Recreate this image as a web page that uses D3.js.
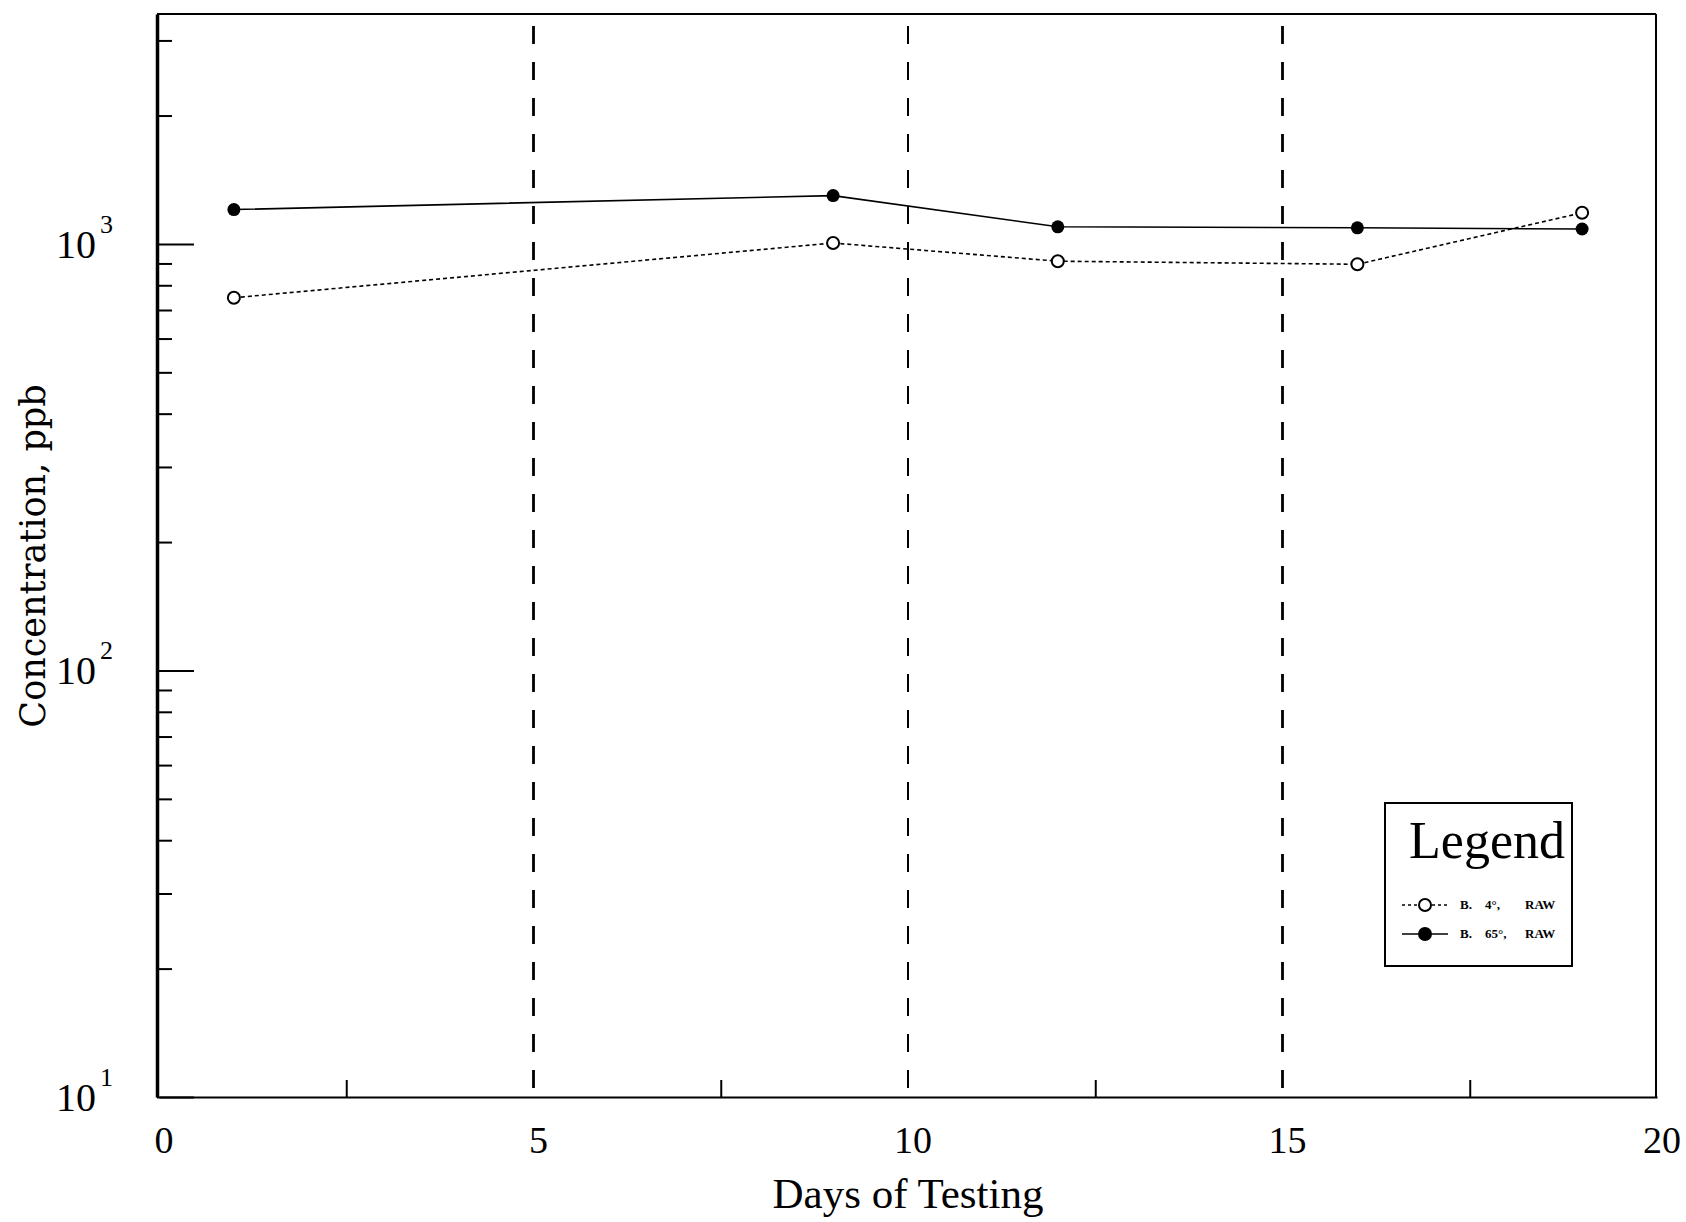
<!DOCTYPE html>
<html>
<head>
<meta charset="utf-8">
<script src="https://cdn.jsdelivr.net/npm/d3@7"></script>
<style>
  body { margin: 0; background: #fff; }
  svg { display: block; }
</style>
</head>
<body>
<svg width="1686" height="1222"></svg>
<script>
// Data
const days = [1, 9, 12, 16, 19];
const openValues = [748, 1005, 911, 896, 1183];   // open circles, dotted line
const filledValues = [1204, 1298, 1097, 1091, 1084]; // filled circles, solid line
const xTicks = [0, 5, 10, 15, 20];
const xGrid = [5, 10, 15];
const xMinor = [2.5, 7.5, 12.5, 17.5];
const yMajor = [10, 100, 1000];
const yMinor = [20, 30, 40, 50, 60, 70, 80, 90, 200, 300, 400, 500, 600, 700, 800, 900, 2000, 3000];
const legendLabels = [["B.", "4°,", "RAW"], ["B.", "65°,", "RAW"]];

const svg = d3.select("svg");
const plotLeft = 157, plotRight = 1656, plotTop = 14, plotBottom = 1097;

const x = d3.scaleLinear().domain([0, 20]).range([plotLeft + 2, plotRight + 1]);
const y = d3.scaleLog().domain([10, 3460]).range([plotBottom, plotTop]);

// dashed vertical grid lines
svg.append("g")
  .selectAll("line")
  .data(xGrid)
  .join("line")
  .attr("x1", d => x(d)).attr("x2", d => x(d))
  .attr("y1", plotTop + 12).attr("y2", plotBottom)
  .attr("stroke", "#000")
  .attr("stroke-width", d => (d === 10 ? 2 : 2.8))
  .attr("stroke-dasharray", "18,18");

// frame
svg.append("line").attr("x1", plotLeft).attr("x2", plotRight).attr("y1", plotTop).attr("y2", plotTop)
  .attr("stroke", "#000").attr("stroke-width", 2);
svg.append("line").attr("x1", plotRight).attr("x2", plotRight).attr("y1", plotTop).attr("y2", plotBottom)
  .attr("stroke", "#000").attr("stroke-width", 2);

// bottom axis with inward minor ticks
const xAxis = svg.append("g")
  .attr("transform", `translate(0,${plotBottom})`)
  .call(d3.axisBottom(x).tickValues(xMinor).tickSize(-17).tickFormat("").tickSizeOuter(0));
xAxis.select(".domain").attr("stroke", "#000").attr("stroke-width", 2);
xAxis.selectAll(".tick line").attr("stroke", "#000").attr("stroke-width", 2);

svg.append("g")
  .selectAll("text")
  .data(xTicks)
  .join("text")
  .attr("x", d => x(d) + 5)
  .attr("y", plotBottom + 56)
  .attr("text-anchor", "middle")
  .attr("font-family", "Liberation Serif")
  .attr("font-size", 38)
  .text(d => d);

// left axis, log scale, ticks pointing inward
const yAxisMinor = svg.append("g")
  .attr("transform", `translate(${plotLeft},0)`)
  .call(d3.axisLeft(y).tickValues(yMinor).tickSize(-15).tickFormat("").tickSizeOuter(0));
yAxisMinor.select(".domain").attr("stroke", "#000").attr("stroke-width", 3.5);
yAxisMinor.selectAll(".tick line").attr("stroke", "#000").attr("stroke-width", 2);

const yAxisMajor = svg.append("g")
  .attr("transform", `translate(${plotLeft},0)`)
  .call(d3.axisLeft(y).tickValues(yMajor).tickSize(-37).tickFormat(""));
yAxisMajor.select(".domain").remove();
yAxisMajor.selectAll(".tick line").attr("stroke", "#000").attr("stroke-width", 2);

const yLab = svg.append("g")
  .selectAll("text")
  .data(yMajor)
  .join("text")
  .attr("x", 113)
  .attr("y", d => y(d) + 14)
  .attr("text-anchor", "end")
  .attr("font-family", "Liberation Serif")
  .attr("font-size", 40);
yLab.append("tspan").text("10");
yLab.append("tspan")
  .attr("font-size", 26)
  .attr("dy", -25)
  .attr("dx", 4)
  .text(d => Math.round(Math.log10(d)));

// axis titles
svg.append("text")
  .attr("x", 908).attr("y", 1208)
  .attr("text-anchor", "middle")
  .attr("font-family", "Liberation Serif")
  .attr("font-size", 43)
  .text("Days of Testing");

svg.append("text")
  .attr("transform", "translate(45,556) rotate(-90)")
  .attr("text-anchor", "middle")
  .attr("font-family", "DejaVu Serif")
  .attr("font-size", 35)
  .text("Concentration, ppb");

// series
const openData = days.map((d, i) => ({ day: d, value: openValues[i] }));
const filledData = days.map((d, i) => ({ day: d, value: filledValues[i] }));
const line = d3.line().x(d => x(d.day)).y(d => y(d.value));

svg.append("path")
  .datum(filledData)
  .attr("d", line)
  .attr("fill", "none")
  .attr("stroke", "#000")
  .attr("stroke-width", 1.6);

svg.append("path")
  .datum(openData)
  .attr("d", line)
  .attr("fill", "none")
  .attr("stroke", "#000")
  .attr("stroke-width", 1.6)
  .attr("stroke-dasharray", "4,3");

svg.append("g")
  .selectAll("circle")
  .data(filledData)
  .join("circle")
  .attr("cx", d => x(d.day))
  .attr("cy", d => y(d.value))
  .attr("r", 6.5)
  .attr("fill", "#000");

svg.append("g")
  .selectAll("circle")
  .data(openData)
  .join("circle")
  .attr("cx", d => x(d.day))
  .attr("cy", d => y(d.value))
  .attr("r", 6)
  .attr("fill", "#fff")
  .attr("stroke", "#000")
  .attr("stroke-width", 2);

// legend
const lg = svg.append("g").attr("transform", "translate(1385,803)");
lg.append("rect")
  .attr("width", 187).attr("height", 163)
  .attr("fill", "#fff")
  .attr("stroke", "#000")
  .attr("stroke-width", 2);
lg.append("text")
  .attr("x", 102).attr("y", 55)
  .attr("text-anchor", "middle")
  .attr("font-family", "Liberation Serif")
  .attr("font-size", 52)
  .text("Legend");

const rows = lg.selectAll("g.row")
  .data(legendLabels)
  .join("g")
  .attr("class", "row")
  .attr("transform", (d, i) => `translate(0,${102 + i * 29})`);
rows.append("line")
  .attr("x1", 17).attr("x2", 63)
  .attr("stroke", "#000")
  .attr("stroke-width", 1.4)
  .attr("stroke-dasharray", (d, i) => (i === 0 ? "3,3" : null));
rows.append("circle")
  .attr("cx", 40).attr("r", 6)
  .attr("fill", (d, i) => (i === 0 ? "#fff" : "#000"))
  .attr("stroke", "#000")
  .attr("stroke-width", 2);
rows.selectAll("text")
  .data(d => d)
  .join("text")
  .attr("x", (d, j) => [75, 100, 140][j])
  .attr("y", 4)
  .attr("font-family", "Liberation Serif")
  .attr("font-weight", "bold")
  .attr("font-size", 13)
  .text(d => d);
</script>
</body>
</html>
